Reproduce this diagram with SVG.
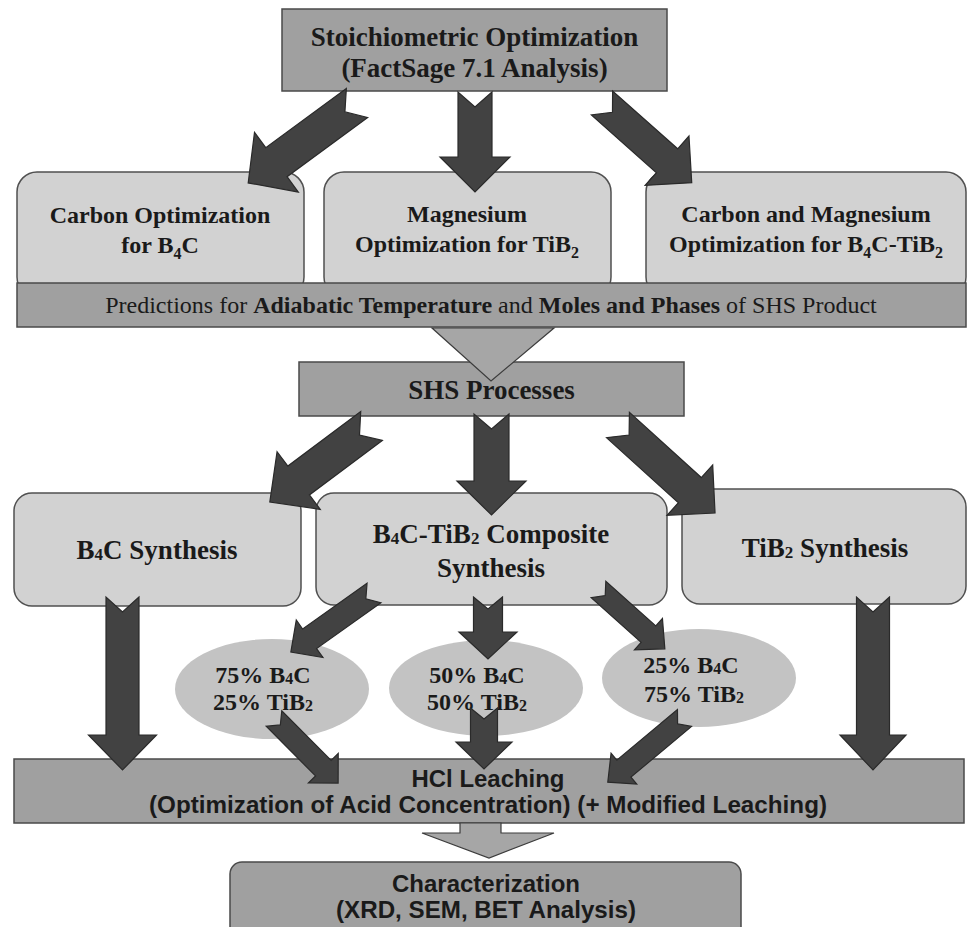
<svg xmlns="http://www.w3.org/2000/svg" width="968" height="927" viewBox="0 0 968 927">
<style>
.mid{fill:#a0a0a0;stroke:#4a4a4a;stroke-width:1.5}
.lite{fill:#d2d2d2;stroke:#505050;stroke-width:1.5}
.ell{fill:#c3c3c3;stroke:none}
.arr{fill:#424242;stroke:#2a2a2a;stroke-width:1.2;stroke-linejoin:miter}
.tri{fill:#a6a6a6;stroke:#3c3c3c;stroke-width:1.2}
.sb{font-family:"Liberation Serif","Times New Roman",serif;font-weight:bold;fill:#1a1a1a;text-anchor:middle}
.sr{font-family:"Liberation Serif","Times New Roman",serif;font-weight:normal;fill:#1a1a1a;text-anchor:middle}
.ss{font-family:"Liberation Sans",Arial,sans-serif;font-weight:bold;fill:#1a1a1a;text-anchor:middle}
</style>
<rect width="968" height="927" fill="#ffffff"/>

<g id="stoich">
<rect class="mid" x="282" y="9" width="385" height="82"/>
<text class="sb" x="474.5" y="46" font-size="27">Stoichiometric Optimization</text>
<text class="sb" x="474.5" y="77" font-size="27">(FactSage 7.1 Analysis)</text>
</g>

<g id="carbon-opt">
<rect class="lite" x="17" y="172" width="287" height="125" rx="20"/>
<text class="sb" x="160" y="223" font-size="24">Carbon Optimization</text>
<text class="sb" x="160" y="253" font-size="24">for B<tspan font-size="16" dy="6">4</tspan><tspan dy="-6">C</tspan></text>
</g>

<g id="mg-opt">
<rect class="lite" x="324" y="172" width="287" height="125" rx="20"/>
<text class="sb" x="467" y="222" font-size="24">Magnesium</text>
<text class="sb" x="467" y="252" font-size="24">Optimization for TiB<tspan font-size="16" dy="6">2</tspan></text>
</g>

<g id="cmg-opt">
<rect class="lite" x="646" y="172" width="320" height="125" rx="20"/>
<text class="sb" x="806" y="222" font-size="24">Carbon and Magnesium</text>
<text class="sb" x="806" y="252" font-size="24">Optimization for B<tspan font-size="16" dy="6">4</tspan><tspan dy="-6">C-TiB</tspan><tspan font-size="16" dy="6">2</tspan></text>
</g>

<g id="predictions">
<rect class="mid" x="17" y="283" width="949" height="44" fill="#9a9a9a"/>
<text class="sr" x="491" y="313" font-size="24">Predictions for <tspan font-weight="bold">Adiabatic Temperature</tspan> and <tspan font-weight="bold">Moles and Phases</tspan> of SHS Product</text>
</g>

<g id="shs">
<rect class="mid" x="299" y="362" width="385" height="54"/>
<text class="sb" x="491.5" y="399" font-size="27">SHS Processes</text>
</g>

<g id="b4c-syn">
<rect class="lite" x="14" y="493" width="287" height="113" rx="18"/>
<text class="sb" x="157" y="559" font-size="27">B<tspan font-size="17" dy="1">4</tspan><tspan dy="-1">C Synthesis</tspan></text>
</g>

<g id="comp-syn">
<rect class="lite" x="316" y="493" width="351" height="112" rx="18"/>
<text class="sb" x="491" y="543" font-size="27">B<tspan font-size="17" dy="1">4</tspan><tspan dy="-1">C-TiB</tspan><tspan font-size="17" dy="1">2</tspan><tspan dy="-1"> Composite</tspan></text>
<text class="sb" x="491" y="577" font-size="27">Synthesis</text>
</g>

<g id="tib2-syn">
<rect class="lite" x="682" y="489" width="284" height="115" rx="18"/>
<text class="sb" x="825" y="557" font-size="27">TiB<tspan font-size="17" dy="1">2</tspan><tspan dy="-1"> Synthesis</tspan></text>
</g>

<g id="mix75">
<ellipse class="ell" cx="272" cy="689" rx="97" ry="50"/>
<text class="sb" x="263" y="683" font-size="24">75% B<tspan font-size="16" dy="1">4</tspan><tspan dy="-1">C</tspan></text>
<text class="sb" x="263" y="710" font-size="24">25% TiB<tspan font-size="16" dy="1">2</tspan></text>
</g>

<g id="mix50">
<ellipse class="ell" cx="486" cy="688" rx="97" ry="48"/>
<text class="sb" x="477" y="683" font-size="24">50% B<tspan font-size="16" dy="1">4</tspan><tspan dy="-1">C</tspan></text>
<text class="sb" x="477" y="710" font-size="24">50% TiB<tspan font-size="16" dy="1">2</tspan></text>
</g>

<g id="mix25">
<ellipse class="ell" cx="699" cy="678" rx="97" ry="49"/>
<text class="sb" x="691" y="673" font-size="24">25% B<tspan font-size="16" dy="1">4</tspan><tspan dy="-1">C</tspan></text>
<text class="sb" x="694" y="702" font-size="24">75% TiB<tspan font-size="16" dy="1">2</tspan></text>
</g>

<g id="leaching">
<rect class="mid" x="14" y="759" width="950" height="64"/>
<text class="ss" x="488" y="787" font-size="23" textLength="153" lengthAdjust="spacingAndGlyphs">HCl Leaching</text>
<text class="ss" x="488" y="813" font-size="23" textLength="678" lengthAdjust="spacingAndGlyphs">(Optimization of Acid Concentration) (+ Modified Leaching)</text>
</g>

<g id="characterization">
<rect class="mid" x="230" y="862" width="511" height="80" rx="12"/>
<text class="ss" x="486" y="892" font-size="23" textLength="188" lengthAdjust="spacingAndGlyphs">Characterization</text>
<text class="ss" x="486" y="918" font-size="23" textLength="300" lengthAdjust="spacingAndGlyphs">(XRD, SEM, BET Analysis)</text>
</g>

<g id="connectors">
<path class="arr" transform="translate(357,103) rotate(143.7)" d="M0,-18 L15,0 L0,18 L100,18 L100,37 L135,0 L100,-37 L100,-18 Z"/>
<path class="arr" transform="translate(475,92) rotate(90)" d="M0,-17 L15,0 L0,17 L65,17 L65,35 L100,0 L65,-35 L65,-17 Z"/>
<path class="arr" transform="translate(602,103) rotate(41.6)" d="M0,-16 L14,0 L0,16 L87,16 L87,33 L120,0 L87,-33 L87,-16 Z"/>
<polygon class="tri" points="432,328 554,328 491,381"/>
<path class="arr" transform="translate(371.5,426) rotate(143.2)" d="M0,-18 L15,0 L0,18 L91,18 L91,36 L127,0 L91,-36 L91,-18 Z"/>
<path class="arr" transform="translate(491.5,414) rotate(90)" d="M0,-17.5 L15,0 L0,17.5 L67,17.5 L67,34.5 L101,0 L67,-34.5 L67,-17.5 Z"/>
<path class="arr" transform="translate(618,425) rotate(42.2)" d="M0,-17 L15,0 L0,17 L97,17 L97,34 L131,0 L97,-34 L97,-17 Z"/>
<path class="arr" transform="translate(122.5,597) rotate(90)" d="M0,-16.5 L15,0 L0,16.5 L138,16.5 L138,34 L173,0 L138,-34 L138,-16.5 Z"/>
<path class="arr" transform="translate(873,597) rotate(90)" d="M0,-16.5 L15,0 L0,16.5 L138,16.5 L138,33 L173,0 L138,-33 L138,-16.5 Z"/>
<path class="arr" transform="translate(374,593) rotate(144.6)" d="M0,-12 L10,0 L0,12 L79,12 L79,23 L102,0 L79,-23 L79,-12 Z"/>
<path class="arr" transform="translate(488,597) rotate(90)" d="M0,-14.5 L12,0 L0,14.5 L35,14.5 L35,29 L62,0 L35,-29 L35,-14.5 Z"/>
<path class="arr" transform="translate(598.5,589.5) rotate(41.8)" d="M0,-11 L9,0 L0,11 L67,11 L67,21 L89,0 L67,-21 L67,-11 Z"/>
<path class="arr" transform="translate(274,718.5) rotate(45.2)" d="M0,-11 L9,0 L0,11 L70,11 L70,21 L91,0 L70,-21 L70,-11 Z"/>
<path class="arr" transform="translate(484,708) rotate(90)" d="M0,-13.5 L11,0 L0,13.5 L34,13.5 L34,28 L61,0 L34,-28 L34,-13.5 Z"/>
<path class="arr" transform="translate(684.5,718) rotate(140.1)" d="M0,-11 L9,0 L0,11 L79,11 L79,20 L100,0 L79,-20 L79,-11 Z"/>
<polygon class="tri" points="460,823 501,823 501,833 554,833 489,858 422,833 460,833"/>
</g>
</svg>
